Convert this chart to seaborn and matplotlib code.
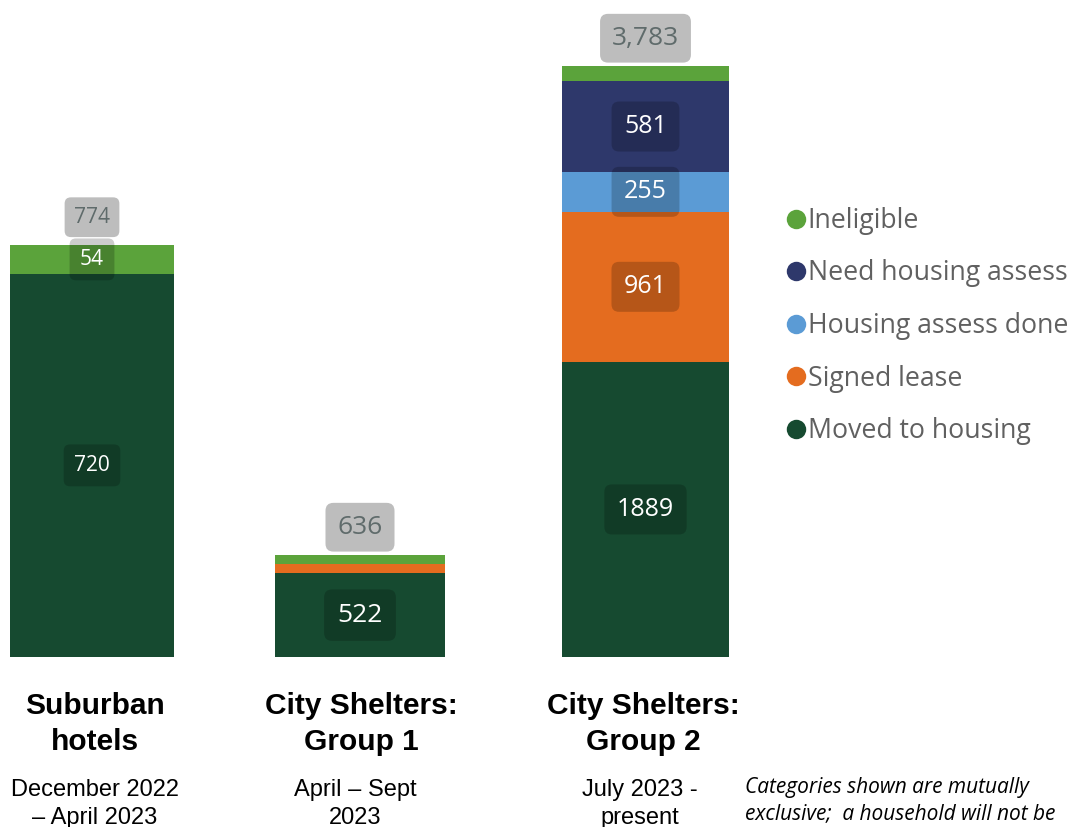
import numpy as np
import pandas as pd
import matplotlib.pyplot as plt
import seaborn as sns
from matplotlib.lines import Line2D

sns.set_theme(style="white")
plt.rcParams['font.family'] = ['Open Sans', 'DejaVu Sans']

# data
groups = ["Suburban\nhotels", "City Shelters:\nGroup 1", "City Shelters:\nGroup 2"]
periods = ["December 2022\n\u2013 April 2023", "April \u2013 Sept\n2023", "July 2023 -\npresent"]
categories = ["Moved to housing", "Signed lease", "Housing assess done",
              "Need housing assess", "Ineligible"]
moved = [720, 522, 1889]
signed = [0, 57, 961]
assess_done = [0, 0, 255]
need_assess = [0, 0, 581]
ineligible = [54, 57, 97]
totals = [774, 636, 3783]

colors = {"Moved to housing": "#164A30", "Signed lease": "#E46C1F",
          "Housing assess done": "#5B9BD5", "Need housing assess": "#2E386B",
          "Ineligible": "#5BA33B"}

W, H = 1074, 827
fig = plt.figure(figsize=(W / 100, H / 100), dpi=100)

# each bar is its own little chart with its own scale
bar_px = [(10, 174), (275, 445), (562, 729)]
bar_top_px = [245, 555, 66]
ax_bottom_px, ax_top_px = 657, 40
label_size = [15, 19, 19]

values = np.array([moved, signed, assess_done, need_assess, ineligible])

for i in range(3):
    x0, x1 = bar_px[i]
    ax = fig.add_axes([x0 / W, 1 - ax_bottom_px / H, (x1 - x0) / W,
                       (ax_bottom_px - ax_top_px) / H])
    df = pd.DataFrame({"cat": categories, "value": values[:, i]})
    df["cum"] = df["value"].cumsum()
    # draw cumulative bars from the top segment down so they stack
    for _, row in df.iloc[::-1].iterrows():
        sns.barplot(x=["g"], y=[row["cum"]], color=colors[row["cat"]],
                    width=1, saturation=1, linewidth=0, edgecolor="none", ax=ax)
    ymax = totals[i] * (ax_bottom_px - ax_top_px) / (ax_bottom_px - bar_top_px[i])
    ax.set_xlim(-0.5, 0.5)
    ax.set_ylim(0, ymax)
    ax.axis("off")

    # segment labels
    for _, row in df.iterrows():
        if row["value"] / ymax > 0.04:
            ax.text(0, row["cum"] - row["value"] / 2, f"{row['value']}",
                    ha="center", va="center", color="white",
                    fontsize=label_size[i] - (1 if i == 2 else 0),
                    bbox=dict(boxstyle="round,pad=0.5,rounding_size=0.3",
                              fc=(0, 0, 0, 0.2), ec="none"))
    # total label
    ax.annotate(f"{totals[i]:,}", (0, totals[i]), xytext=(0, 20),
                textcoords="offset points", ha="center", va="center",
                color="#5F6B6B", fontsize=label_size[i],
                bbox=dict(boxstyle="round,pad=0.45,rounding_size=0.3",
                          fc="#BDBDBD", ec="none"),
                annotation_clip=False)

# group titles and periods
title_x = [95, 361, 643]
period_x = [95, 355, 640]
for i in range(3):
    fig.text(title_x[i] / W, 1 - 724 / H, groups[i], ha="center", va="center",
             fontsize=21.5, fontweight="bold", family="Liberation Sans",
             linespacing=1.32, color="black")
    fig.text(period_x[i] / W, 1 - 804 / H, periods[i], ha="center", va="center",
             fontsize=17, family="Liberation Sans", linespacing=1.3,
             color="black")

fig.text(745 / W, 1 - 777 / H,
         "Categories shown are mutually\nexclusive;  a household will not be",
         ha="left", va="top", fontsize=15, style="italic",
         linespacing=1.3, color="black")

# legend, top to bottom
handles = [Line2D([0], [0], marker="o", ls="none", markersize=14,
                  markerfacecolor=colors[c], markeredgecolor="none", label=c)
           for c in categories[::-1]]
leg = fig.legend(handles=handles, loc="center left",
                 bbox_to_anchor=(777 / W, 1 - 326 / H), frameon=False,
                 fontsize=19.2, handlelength=0.6, handletextpad=0.15,
                 labelspacing=0.92, borderaxespad=0)
for t in leg.get_texts():
    t.set_color("#606060")

fig.savefig("out.png", dpi=100)
